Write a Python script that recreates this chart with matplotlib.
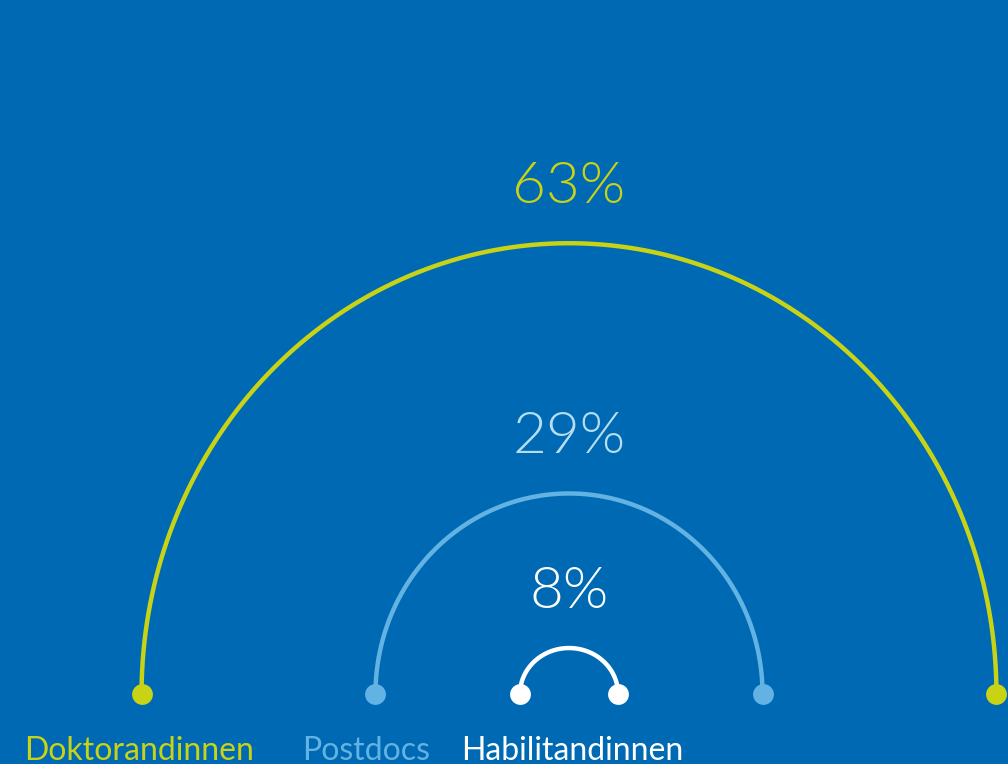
import matplotlib.pyplot as plt
import numpy as np

# data
groups = ['Doktorandinnen', 'Postdocs', 'Habilitandinnen']
shares = [63, 29, 8]
colors = ['#c8d316', '#62b3e3', '#ffffff']
text_colors = ['#c8d316', '#b5def2', '#ffffff']
bg = '#0069b3'

W, H = 1008, 764
fig = plt.figure(figsize=(W / 100, H / 100), dpi=100)
fig.patch.set_facecolor(bg)
ax = fig.add_axes([0, 0, 1, 1])
ax.set_facecolor(bg)
ax.set_xlim(0, W)
ax.set_ylim(H, 0)
ax.axis('off')

cx, cy = 569, 694

def rx(v):
    return 6.88 * v - 6

def ry(v):
    return 7.36 * v - 12.9

t = np.linspace(0, np.pi, 300)
for v, c, tc in zip(shares, colors, text_colors):
    a, b = rx(v), ry(v)
    ax.plot(cx + a * np.cos(t), cy - b * np.sin(t), color=c, lw=3.2,
            solid_capstyle='round', zorder=2)
    ax.plot([cx - a, cx + a], [cy, cy], 'o', color=c, ms=15, mec='none', zorder=3)
    ax.text(cx, cy - b - 56, f'{v}%', color=tc, fontsize=42, family='Lato',
            fontweight=300, ha='center', va='center')

# labels at the bottom
label_x = [24, 302, 461]
for name, c, x in zip(groups, colors, label_x):
    ax.text(x, 760, name, color=c, fontsize=23, family='Lato',
            ha='left', va='baseline')

fig.savefig('out.png', dpi=100, facecolor=bg)
